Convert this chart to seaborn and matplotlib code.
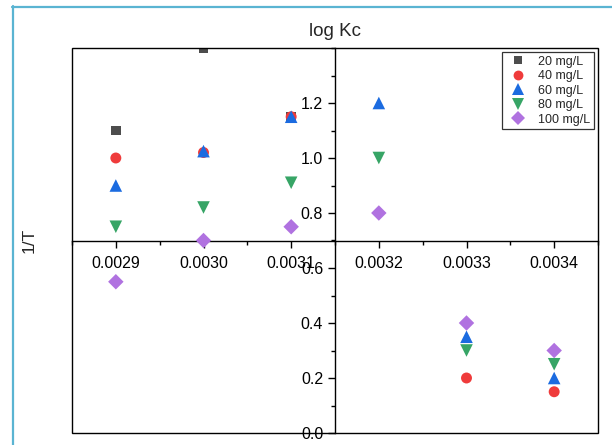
import matplotlib
matplotlib.use("Agg")
import matplotlib.pyplot as plt
from matplotlib.lines import Line2D
from matplotlib.patches import Rectangle
from matplotlib.ticker import MultipleLocator, FixedLocator
import numpy as np
import pandas as pd
import seaborn as sns

# ---- data ----
inv_T = [0.0029, 0.0030, 0.0031, 0.0032, 0.0033, 0.0034]
series_names = ["20 mg/L", "40 mg/L", "60 mg/L", "80 mg/L", "100 mg/L"]
logkc_20 = [1.10, 1.40, 1.15, np.nan, np.nan, np.nan]
logkc_40 = [1.00, 1.02, 1.15, np.nan, 0.20, 0.15]
logkc_60 = [0.90, 1.025, 1.15, 1.20, 0.35, 0.20]
logkc_80 = [0.75, 0.82, 0.91, 1.00, 0.30, 0.25]
logkc_100 = [0.55, 0.70, 0.75, 0.80, 0.40, 0.30]
x_ticks = [0.0029, 0.0030, 0.0031, 0.0032, 0.0033, 0.0034]
x_tick_labels = ["0.0029", "0.0030", "0.0031", "0.0032", "0.0033", "0.0034"]
y_ticks = [0.0, 0.2, 0.4, 0.6, 0.8, 1.0, 1.2]
y_tick_labels = ["0.0", "0.2", "0.4", "0.6", "0.8", "1.0", "1.2"]

colors = ["#4d4d4d", "#ef3b3b", "#1b6be0", "#37a566", "#b072e0"]
markers = ["s", "o", "^", "v", "D"]
marker_areas = [50, 62, 82, 82, 62]

rows = []
for name, vals in zip(series_names, [logkc_20, logkc_40, logkc_60, logkc_80, logkc_100]):
    for x, y in zip(inv_T, vals):
        if not np.isnan(y):
            rows.append({"x": x, "y": y, "series": name})
df = pd.DataFrame(rows)

sns.set_style("ticks")
plt.rcParams["font.family"] = ["Liberation Sans", "DejaVu Sans"]

fig = plt.figure(figsize=(6.12, 4.45), dpi=100)
ax = fig.add_axes([72 / 612, 12 / 445, (598 - 72) / 612, (433 - 48) / 445])

sns.scatterplot(
    data=df, x="x", y="y", hue="series", style="series", size="series",
    hue_order=series_names, style_order=series_names, size_order=series_names,
    palette=dict(zip(series_names, colors)),
    markers=dict(zip(series_names, markers)),
    sizes=dict(zip(series_names, marker_areas)),
    linewidth=0, ax=ax, zorder=3,
)

ax.set_xlim(0.00285, 0.00345)
ax.set_ylim(0.0, 1.4)

# axes crossing at the centre
ax.spines["left"].set_position(("data", 0.00315))
ax.spines["bottom"].set_position(("data", 0.7))
ax.spines["top"].set_visible(False)
ax.spines["right"].set_visible(False)
for sp in ("left", "bottom"):
    ax.spines[sp].set_linewidth(1.0)
    ax.spines[sp].set_color("black")
ax.add_patch(Rectangle((0, 0), 1, 1, transform=ax.transAxes, fill=False,
                       edgecolor="black", linewidth=1.0, clip_on=False, zorder=5))

ax.xaxis.set_major_locator(FixedLocator(x_ticks))
ax.set_xticklabels(x_tick_labels)
ax.xaxis.set_minor_locator(MultipleLocator(0.00005))
ax.yaxis.set_major_locator(FixedLocator(y_ticks))
ax.set_yticklabels(y_tick_labels)
ax.yaxis.set_minor_locator(MultipleLocator(0.1))
ax.tick_params(axis="both", which="major", direction="out", length=5, width=1,
               labelsize=11.5, color="black", labelcolor="black")
ax.tick_params(axis="both", which="minor", direction="out", length=3, width=1,
               color="black")
ax.tick_params(axis="x", pad=6)

ax.set_xlabel("")
ax.set_ylabel("")
fig.text(335 / 612, 1 - 32 / 445, "log Kc", ha="center", va="center", fontsize=13.5)
fig.text(29 / 612, 1 - 240 / 445, "1/T", ha="center", va="center", fontsize=12.5,
         rotation=90)

leg = ax.legend(loc="upper right", bbox_to_anchor=(0.993, 0.99), frameon=True,
                fancybox=False, fontsize=9, markerscale=0.9, borderpad=0.3,
                labelspacing=0.2, handletextpad=0.6, borderaxespad=0.0,
                handlelength=2.0)
leg.get_frame().set_edgecolor("black")
leg.get_frame().set_linewidth(0.9)

# light blue figure frame
fig.add_artist(Line2D([12.5 / 612, 12.5 / 612], [0, 1 - 6 / 445],
                      transform=fig.transFigure, color="#5ab4d2", linewidth=1.6))
fig.add_artist(Line2D([12 / 612, 1], [1 - 6.5 / 445, 1 - 6.5 / 445],
                      transform=fig.transFigure, color="#5ab4d2", linewidth=1.6))

fig.savefig("out.png", dpi=100)
